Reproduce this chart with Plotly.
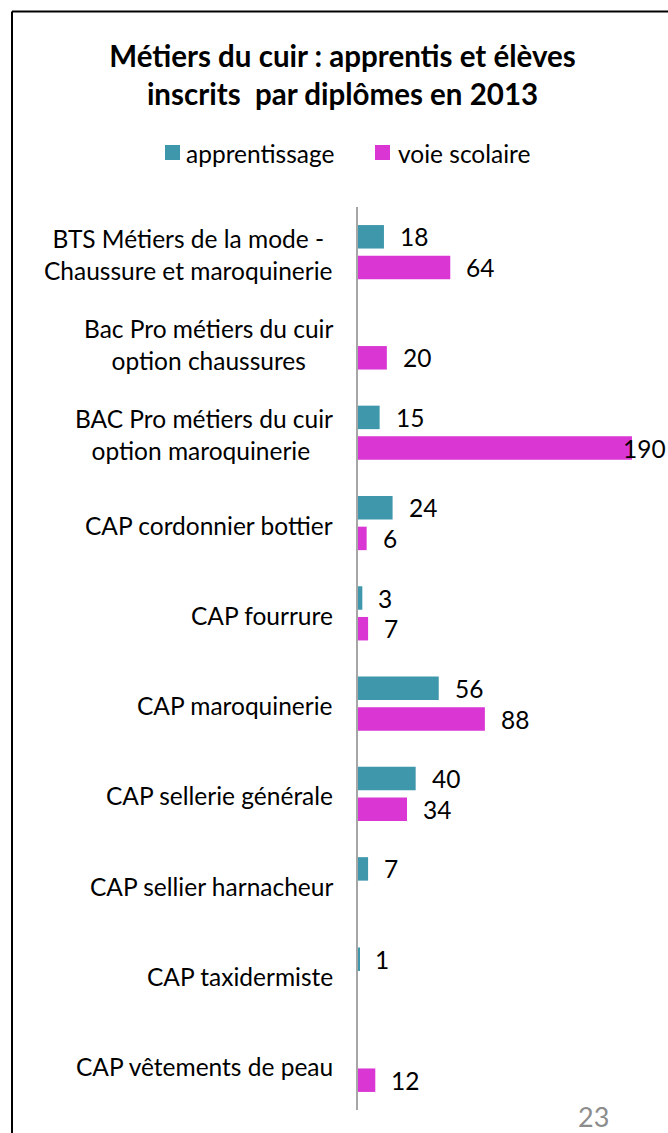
import plotly.graph_objects as go

categories = [
    "BTS Métiers de la mode -<br>Chaussure et maroquinerie",
    "Bac Pro métiers du cuir<br>option chaussures",
    "BAC Pro métiers du cuir<br>option maroquinerie ",
    "CAP cordonnier bottier",
    "CAP fourrure",
    "CAP maroquinerie",
    "CAP sellerie générale",
    "CAP sellier harnacheur",
    "CAP taxidermiste",
    "CAP vêtements de peau",
]
apprentissage = [18, None, 15, 24, 3, 56, 40, 7, 1, None]
voie_scolaire = [64, 20, 190, 6, 7, 88, 34, None, None, 12]

series_names = ["apprentissage", "voie scolaire"]
colors = ["#3f97ab", "#d936d4"]

FONT = "Lato"
FS = 24.5
W, H = 668, 1133
ML, MR, MT, MB = 358, 0, 207, 23
XMAX = 215
plot_w = W - ML - MR
plot_h = H - MT - MB
px_per_unit = plot_w / XMAX


def px_x(px):
    return (px - ML) / plot_w


def px_y(py):
    return ((H - MB) - py) / plot_h


idx = list(range(len(categories)))
offsets = [-0.17, 0.17]
bar_w = 0.26

fig = go.Figure()
annotations = []
shapes = []
for name, vals, col, off in zip(series_names, [apprentissage, voie_scolaire], colors, offsets):
    ys = [i + off for i in idx]
    fig.add_trace(go.Bar(
        name=name, x=vals, y=ys, orientation="h", width=bar_w,
        marker=dict(color=col, line=dict(width=0)), showlegend=False,
    ))
    for v, y in zip(vals, ys):
        if v is None:
            continue
        txt = str(v)
        est_w = len(txt) * 14
        if v * px_per_unit + 16 + est_w > plot_w:
            annotations.append(dict(x=XMAX, y=y, xref="x", yref="y", text=txt,
                                    showarrow=False, xanchor="right", xshift=0,
                                    font=dict(family=FONT, size=FS, color="#000")))
        else:
            annotations.append(dict(x=v, y=y, xref="x", yref="y", text=txt,
                                    showarrow=False, xanchor="left", xshift=14,
                                    font=dict(family=FONT, size=FS, color="#000")))

for i, c in zip(idx, categories):
    annotations.append(dict(x=0, y=i, xref="paper", yref="y", text=c,
                            showarrow=False, xanchor="right", align="center",
                            xshift=-23, yshift=-2,
                            font=dict(family=FONT, size=FS, color="#000")))

# legend (drawn manually to match the original spacing)
legend_sq = [(165, 180), (375, 390)]
legend_tx = [186, 398]
for name, col, (sx0, sx1), tx in zip(series_names, colors, legend_sq, legend_tx):
    shapes.append(dict(type="rect", xref="paper", yref="paper",
                       x0=px_x(sx0), x1=px_x(sx1), y0=px_y(160), y1=px_y(145),
                       fillcolor=col, line=dict(width=0)))
    annotations.append(dict(x=px_x(tx), y=px_y(153), xref="paper", yref="paper",
                            text=name, showarrow=False, xanchor="left", yanchor="middle",
                            xshift=-2,
                            font=dict(family=FONT, size=FS, color="#000")))

annotations.append(dict(x=px_x(593), y=px_y(1116), xref="paper", yref="paper",
                        text="23", showarrow=False, xanchor="center", yanchor="middle",
                        borderpad=0, borderwidth=0,
                        font=dict(family=FONT, size=27, color="#8c8c8c")))

# slide frame: left and top edges only (right/bottom fall outside the view)
shapes.append(dict(type="line", xref="paper", yref="paper",
                   x0=px_x(12), x1=px_x(W + 5), y0=px_y(11.5), y1=px_y(11.5),
                   line=dict(color="#000", width=2), layer="below"))
shapes.append(dict(type="line", xref="paper", yref="paper",
                   x0=px_x(12), x1=px_x(12), y0=px_y(11.5), y1=px_y(H + 5),
                   line=dict(color="#000", width=2), layer="below"))

fig.update_layout(
    width=W, height=H,
    margin=dict(l=ML, r=MR, t=MT, b=MB),
    paper_bgcolor="white", plot_bgcolor="white",
    barmode="overlay",
    title=dict(text="<b>Métiers du cuir : apprentis et élèves<br>inscrits  par diplômes en 2013</b>",
               x=342.5 / W, xanchor="center", y=1 - 66.5 / H, yanchor="middle",
               font=dict(family=FONT, size=29.5, color="#000")),
    xaxis=dict(range=[0, XMAX], visible=False, fixedrange=True),
    yaxis=dict(range=[len(categories) - 0.5, -0.5], showticklabels=False, ticks="",
               showgrid=False, zeroline=False, showline=True, linecolor="#a6a6a6",
               linewidth=2, fixedrange=True),
    annotations=annotations,
    shapes=shapes,
    showlegend=False,
)

fig.write_html("out.html", config={"displayModeBar": False},
               post_script="document.body.style.margin='0px';document.body.style.overflow='hidden';")
